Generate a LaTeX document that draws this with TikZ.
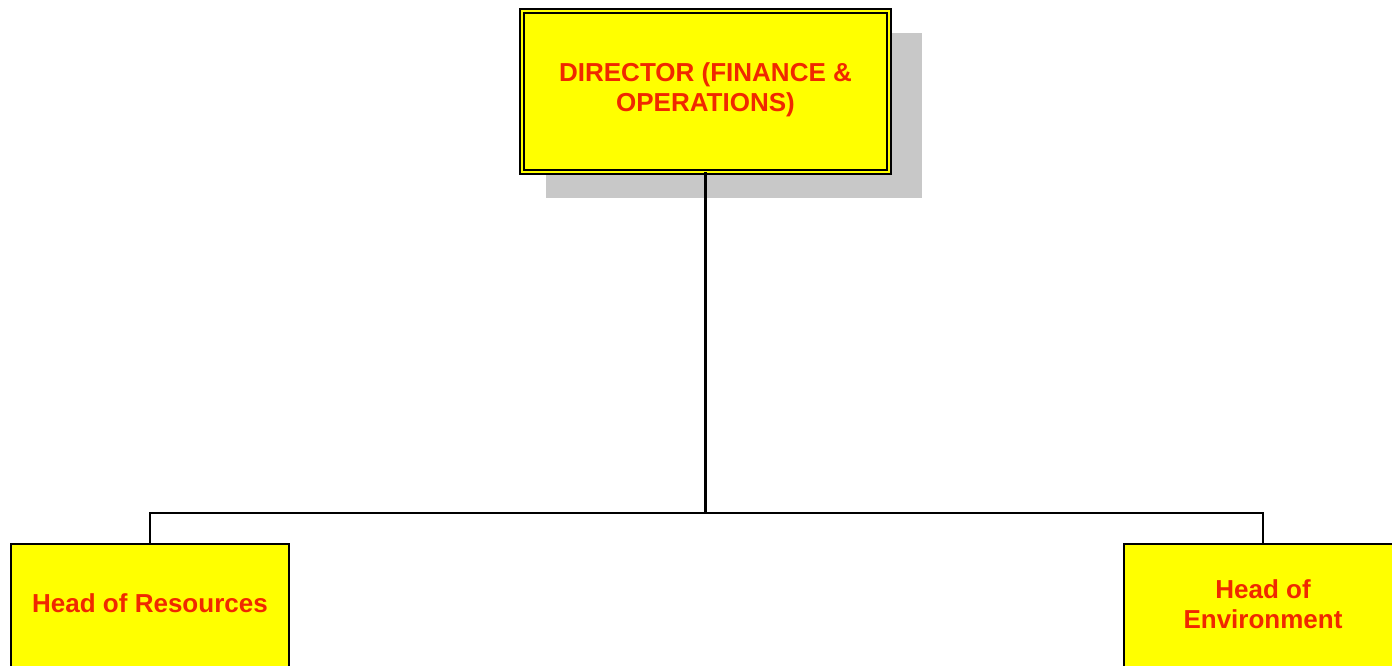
\documentclass[tikz,border=0pt]{standalone}
\usepackage{fontspec}
\setmainfont{Liberation Sans}
\usetikzlibrary{shadows}
\definecolor{boxyellow}{RGB}{255, 255, 0}
\definecolor{titlered}{RGB}{240, 40, 0}
\definecolor{shadowgray}{RGB}{200, 200, 200}

\tikzset{
  postbox/.style={draw=black, fill=boxyellow, inner sep=0pt, outer sep=0pt},
  posttext/.style={text=titlered, font=\fontsize{14.8}{17}\selectfont\bfseries, align=center},
  conn/.style={draw=black, line width=1.2pt}
}

\begin{document}
\begin{tikzpicture}
\useasboundingbox (0,0) rectangle (27.84,-13.3);
\clip (0,0) rectangle (27.84,-13.3);

% Director box
\node[postbox, line width=0.75pt, double=boxyellow, double distance=1.6pt,
      minimum width=7.34cm, minimum height=3.22cm,
      drop shadow={shadow xshift=0.56cm, shadow yshift=-0.47cm, shadow scale=1.025, fill=shadowgray, opacity=1}]
      (dir) at (14.11,-1.83) {};
\node[posttext] (dirtext) at (14.11,-1.80) {DIRECTOR (FINANCE \&\\OPERATIONS)};

% Heads
\node[postbox, line width=1.1pt, minimum width=5.57cm, minimum height=3cm, anchor=north]
      (res) at (3.0,-10.875) {};
\node[posttext] (restext) at (3.0,-12.06) {Head of Resources};

\node[postbox, line width=1.1pt, minimum width=5.57cm, minimum height=3cm, anchor=north]
      (env) at (25.26,-10.875) {};
\node[posttext] (envtext) at (25.26,-12.08) {Head of\\Environment};

% Connectors
\coordinate (split) at (14.11,-10.26);
\draw[conn] (dir.south) -- (split);
\draw[conn] (res.north) |- (split) -| (env.north);
\end{tikzpicture}
\end{document}
